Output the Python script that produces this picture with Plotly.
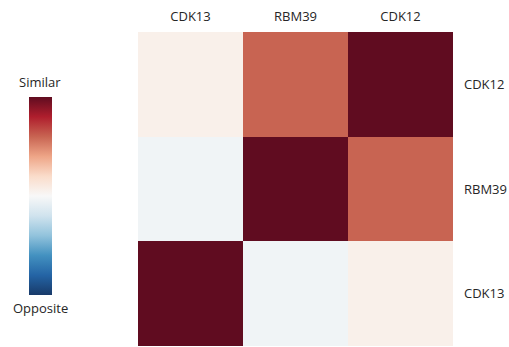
import plotly.graph_objects as go

genes_x = ["CDK13", "RBM39", "CDK12"]
genes_y = ["CDK13", "RBM39", "CDK12"]  # bottom to top

# Pairwise similarity (-1 = opposite, 1 = similar)
row_cdk13 = [1.0, -0.04, 0.06]
row_rbm39 = [-0.04, 1.0, 0.6]
row_cdk12 = [0.06, 0.6, 1.0]

W, H = 509, 347
M_L, M_R, M_T, M_B = 138, 56, 32, 1
PW, PH = W - M_L - M_R, H - M_T - M_B

# Muted blue-white-red diverging scale
scale = [
    [0.0, "rgb(24,58,105)"],
    [0.1, "rgb(36,100,165)"],
    [0.2, "rgb(67,145,192)"],
    [0.3, "rgb(146,195,220)"],
    [0.4, "rgb(208,227,238)"],
    [0.5, "rgb(248,248,248)"],
    [0.6, "rgb(250,220,202)"],
    [0.7, "rgb(238,165,135)"],
    [0.8, "rgb(200,100,82)"],
    [0.9, "rgb(175,30,45)"],
    [1.0, "rgb(96,12,32)"],
]


def px_x(x):
    return (x - M_L) / PW


def px_y(y):
    return (H - M_B - y) / PH


fig = go.Figure(
    go.Heatmap(
        z=[row_cdk13, row_rbm39, row_cdk12],
        x=genes_x,
        y=genes_y,
        zmin=-1,
        zmax=1,
        colorscale=scale,
        colorbar=dict(
            x=px_x(29),
            xanchor="left",
            y=px_y(196),
            yanchor="middle",
            thickness=23,
            thicknessmode="pixels",
            len=198,
            lenmode="pixels",
            outlinewidth=0,
            showticklabels=False,
            ticks="",
            xpad=0,
            ypad=0,
        ),
    )
)

font = dict(family="Open Sans, Noto Sans, sans-serif", size=13, color="#262626")

fig.update_layout(
    width=W,
    height=H,
    margin=dict(l=M_L, r=M_R, t=M_T, b=M_B),
    paper_bgcolor="white",
    plot_bgcolor="white",
    font=font,
    xaxis=dict(side="top", showgrid=False, zeroline=False, ticks="",
               ticklabelstandoff=7, tickfont=font),
    yaxis=dict(side="right", showgrid=False, zeroline=False, ticks="",
               ticklabelstandoff=10, tickfont=font),
    annotations=[
        dict(text="Similar", xref="paper", yref="paper", showarrow=False,
             x=px_x(40), y=px_y(82), xanchor="center", yanchor="middle",
             font=font),
        dict(text="Opposite", xref="paper", yref="paper", showarrow=False,
             x=px_x(40), y=px_y(308), xanchor="center", yanchor="middle",
             font=font),
    ],
)

fig.write_html("out.html")
